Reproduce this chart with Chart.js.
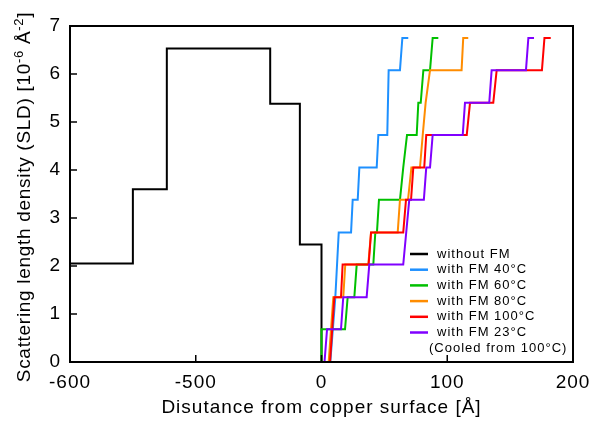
<!DOCTYPE html>
<html>
<head>
<meta charset="utf-8">
<script src="https://cdn.jsdelivr.net/npm/chart.js@4.4.1/dist/chart.umd.min.js"></script>
<style>
  html, body { margin: 0; padding: 0; background: #fff; }
  canvas { display: block; }
</style>
</head>
<body>
<canvas id="sld" width="593" height="421"></canvas>
<script>
// broken x axis: every segment between these values gets the same width
const X_BREAKS = [-600, -500, 0, 100, 200];
const X_TICKS = [-600, -500, 0, 100, 200];
const Y_TICKS = [0, 1, 2, 3, 4, 5, 6, 7];

const labels = ['without FM', 'with FM 40°C', 'with FM 60°C', 'with FM 80°C', 'with FM 100°C', 'with FM 23°C'];
const colors = ['#000000', '#1e90ff', '#00c000', '#ff8c00', '#ff0000', '#8000ff'];
const noteText = '(Cooled from 100°C)';

const noFmX = [-600, -550, -550, -523, -523, -204, -204, -86, -86, 0, 0];
const noFmY = [2.05, 2.05, 3.60, 3.60, 6.53, 6.53, 5.38, 5.38, 2.45, 2.45, 0];

const fm40X = [7.0, 11.0, 13.7, 23.5, 24.8, 28.8, 30.1, 43.9, 45.2, 52.3, 53.4, 62.4, 64.3, 69.0];
const fm40Y = [0, 1.35, 2.70, 2.70, 3.38, 3.38, 4.05, 4.05, 4.73, 4.73, 6.08, 6.08, 6.75, 6.75];

const fm60X = [0, 0, 18.7, 20.8, 26.1, 28.0, 41.2, 42.8, 44.1, 45.7, 62.4, 65.0, 65.5, 68.0, 75.7, 77.0, 78.9, 81.0, 86.3, 88.4, 92.9];
const fm60Y = [0, 0.68, 0.68, 1.35, 1.35, 2.03, 2.03, 2.70, 2.70, 3.38, 3.38, 4.05, 4.05, 4.73, 4.73, 5.40, 5.40, 6.08, 6.08, 6.75, 6.75];

const fm80X = [5.7, 9.4, 17.3, 18.9, 37.2, 39.4, 60.6, 62.4, 68.8, 71.5, 78.3, 80.5, 82.8, 86.3, 111.4, 112.7, 116.7];
const fm80Y = [0, 1.35, 1.35, 2.03, 2.03, 2.70, 2.70, 3.38, 3.38, 4.05, 4.05, 4.73, 5.40, 6.08, 6.08, 6.75, 6.75];

const fm100X = [6.8, 10.2, 15.5, 16.8, 37.5, 39.4, 65.0, 67.2, 71.2, 73.0, 81.7, 83.3, 115.5, 118.1, 136.6, 139.3, 175.3, 177.3, 182.3];
const fm100Y = [0, 1.35, 1.35, 2.03, 2.03, 2.70, 2.70, 3.38, 3.38, 4.05, 4.05, 4.73, 4.73, 5.40, 5.40, 6.08, 6.08, 6.75, 6.75];

const fm23X = [2.4, 4.4, 15.5, 17.3, 35.9, 38.0, 65.0, 69.8, 81.4, 83.3, 86.3, 88.4, 112.3, 114.1, 133.4, 135.3, 162.6, 164.5, 169.0];
const fm23Y = [0, 0.68, 0.68, 1.35, 1.35, 2.03, 2.03, 3.38, 3.38, 4.05, 4.05, 4.73, 4.73, 5.40, 5.40, 6.08, 6.08, 6.75, 6.75];

const FONT = '"Liberation Sans", Arial, sans-serif';

function toSegment(v) {
  const b = X_BREAKS;
  for (let i = 0; i < b.length - 2; i++) {
    if (v <= b[i + 1]) return i + (v - b[i]) / (b[i + 1] - b[i]);
  }
  const n = b.length - 1;
  return n - 1 + (v - b[n - 1]) / (b[n] - b[n - 1]);
}

function fromSegment(u) {
  const n = X_BREAKS.length - 1;
  const i = Math.min(n - 1, Math.max(0, Math.floor(u)));
  return X_BREAKS[i] + (u - i) * (X_BREAKS[i + 1] - X_BREAKS[i]);
}

class BrokenScale extends Chart.LinearScale {
  buildTicks() {
    return X_TICKS.map(v => ({ value: v }));
  }
  getPixelForValue(value) {
    return this.getPixelForDecimal(toSegment(value) / (X_BREAKS.length - 1));
  }
  getValueForPixel(pixel) {
    return fromSegment(this.getDecimalForPixel(pixel) * (X_BREAKS.length - 1));
  }
}
BrokenScale.id = 'broken';
BrokenScale.defaults = Chart.LinearScale.defaults;
Chart.register(BrokenScale);

const toPoints = (xs, ys) => xs.map((x, i) => ({ x: x, y: ys[i] }));
const series = [
  toPoints(noFmX, noFmY),
  toPoints(fm40X, fm40Y),
  toPoints(fm60X, fm60Y),
  toPoints(fm80X, fm80Y),
  toPoints(fm100X, fm100Y),
  toPoints(fm23X, fm23Y),
];
// purple on top, black at the bottom
const drawOrder = [5, 4, 3, 2, 1, 0];

// frame, inner tick marks, y title with superscripts and the legend
const decorations = {
  id: 'decorations',
  beforeUpdate(chart) { chart.ctx.letterSpacing = '1px'; },
  beforeDraw(chart) { chart.ctx.letterSpacing = '1px'; },
  afterDraw(chart) {
    const ctx = chart.ctx;
    const ca = chart.chartArea;
    const xs = chart.scales.x;
    const ys = chart.scales.y;
    ctx.save();
    ctx.strokeStyle = '#000';
    ctx.lineWidth = 1.5;
    ctx.beginPath();
    X_TICKS.forEach(v => {
      const px = xs.getPixelForValue(v);
      ctx.moveTo(px, ca.bottom);
      ctx.lineTo(px, ca.bottom - 7);
    });
    Y_TICKS.forEach(v => {
      const py = ys.getPixelForValue(v);
      ctx.moveTo(ca.left, py);
      ctx.lineTo(ca.left + 7, py);
    });
    ctx.stroke();
    ctx.lineWidth = 2;
    ctx.strokeRect(ca.left, ca.top, ca.right - ca.left, ca.bottom - ca.top);

    // y title
    const parts = [['Scattering length density (SLD) [10', false], ['-6', true], [' Å', false], ['-2', true], [']', false]];
    ctx.letterSpacing = '0.7px';
    ctx.fillStyle = '#000';
    ctx.textBaseline = 'alphabetic';
    ctx.textAlign = 'left';
    let total = 0;
    parts.forEach(([t, sup]) => {
      ctx.font = (sup ? '13px ' : '19px ') + FONT;
      total += ctx.measureText(t).width;
    });
    ctx.save();
    ctx.translate(30, (ca.top + ca.bottom) / 2 + 3);
    ctx.rotate(-Math.PI / 2);
    let pos = -total / 2;
    parts.forEach(([t, sup]) => {
      ctx.font = (sup ? '13px ' : '19px ') + FONT;
      ctx.fillText(t, pos, sup ? -7 : 0);
      pos += ctx.measureText(t).width;
    });
    ctx.restore();

    // legend
    ctx.letterSpacing = '1px';
    ctx.font = '13px ' + FONT;
    ctx.textBaseline = 'middle';
    const rowStep = 15.7;
    const y0 = ca.bottom - 108;
    labels.forEach((label, i) => {
      const y = y0 + i * rowStep;
      ctx.strokeStyle = colors[i];
      ctx.lineWidth = 2.5;
      ctx.beginPath();
      ctx.moveTo(ca.right - 163, y);
      ctx.lineTo(ca.right - 145, y);
      ctx.stroke();
      ctx.fillText(label, ca.right - 136, y);
    });
    ctx.fillText(noteText, ca.right - 144, y0 + labels.length * rowStep);
    ctx.restore();
  }
};

new Chart(document.getElementById('sld').getContext('2d'), {
  type: 'line',
  data: {
    datasets: series.map((pts, i) => ({
      label: labels[i],
      data: pts,
      borderColor: colors[i],
      borderWidth: 2,
      pointRadius: 0,
      fill: false,
      tension: 0,
      order: drawOrder[i],
    })),
  },
  options: {
    responsive: false,
    animation: false,
    devicePixelRatio: 1,
    layout: { padding: { top: 26, right: 20, bottom: 0, left: 0 } },
    plugins: {
      legend: { display: false },
      tooltip: { enabled: false },
    },
    scales: {
      x: {
        type: 'broken',
        min: -600,
        max: 200,
        grid: { display: false, drawTicks: false },
        border: { display: false },
        ticks: {
          autoSkip: false,
          maxRotation: 0,
          padding: 9,
          color: '#000',
          font: { family: FONT, size: 19 },
          callback: v => String(v),
        },
        title: {
          display: true,
          text: 'Disutance from copper surface [Å]',
          color: '#000',
          font: { family: FONT, size: 19 },
          padding: { top: 0, bottom: 2 },
        },
        afterFit(scale) {
          scale.height = 59;
          scale.paddingLeft = 0;
          scale.paddingRight = 0;
        },
      },
      y: {
        min: 0,
        max: 7,
        grid: { display: false, drawTicks: false },
        border: { display: false },
        ticks: {
          stepSize: 1,
          padding: 9,
          color: '#000',
          font: { family: FONT, size: 19 },
          callback: v => String(v),
        },
        afterFit(scale) {
          scale.width = 70;
          scale.paddingTop = 0;
          scale.paddingBottom = 0;
        },
      },
    },
  },
  plugins: [decorations],
});
</script>
</body>
</html>
